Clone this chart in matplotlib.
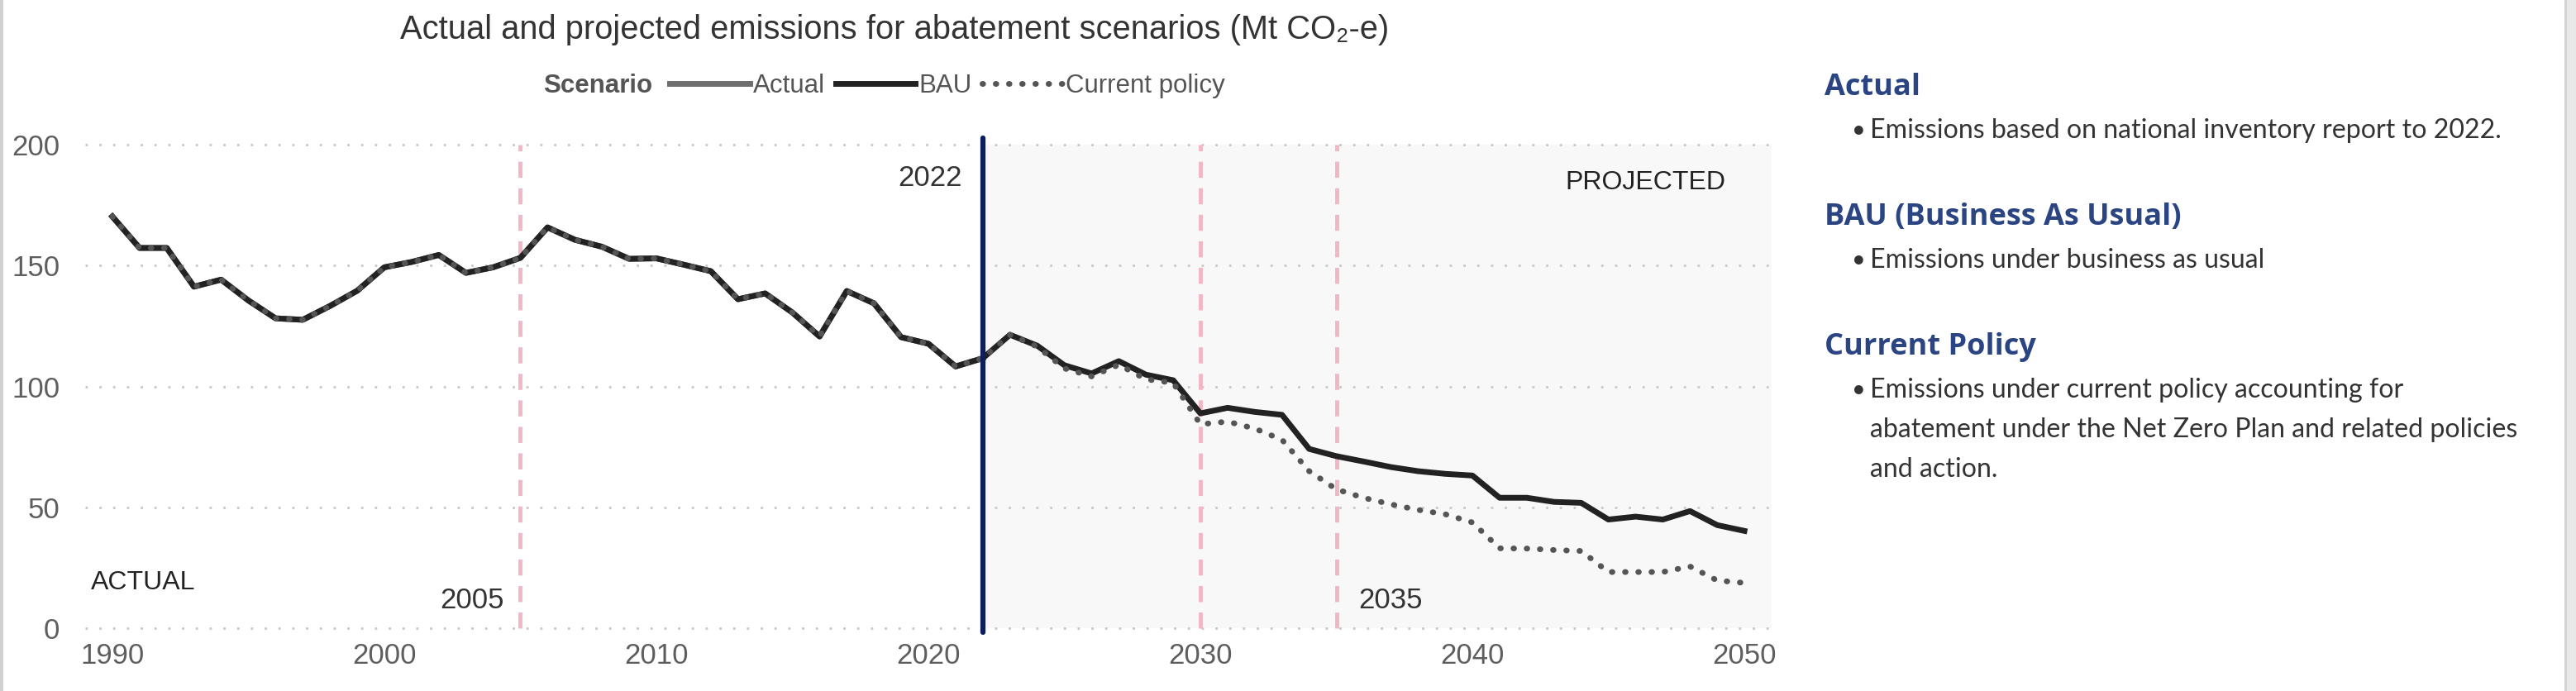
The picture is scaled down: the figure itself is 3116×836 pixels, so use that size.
import matplotlib
matplotlib.use("Agg")
import matplotlib.pyplot as plt
from matplotlib.patches import Rectangle

# values (Mt CO2-e)
years_actual = list(range(1990, 2023))
actual = [170.3, 157.3, 157.3, 141.3, 144.2, 135.6, 128.2, 127.6, 133.3, 139.6,
          149.3, 151.5, 154.4, 147.0, 149.3, 153.2, 165.8, 160.7, 157.8, 152.8,
          153.0, 150.4, 147.7, 136.1, 138.5, 130.6, 120.7, 139.5, 134.4, 120.4,
          117.7, 108.3, 111.7]
years_proj = list(range(2023, 2051))
bau_proj = [121.4, 116.9, 108.8, 105.4, 110.5, 104.9, 102.6, 88.9, 91.2, 89.5,
            88.3, 74.2, 71.2, 69.0, 66.7, 65.0, 63.9, 63.2, 54.0, 54.0,
            52.3, 51.9, 45.0, 46.2, 45.0, 48.5, 42.7, 40.3]
cp_proj = [121.4, 116.5, 107.5, 104.2, 109.0, 103.0, 101.5, 84.4, 85.5, 82.6,
           78.0, 65.0, 57.5, 54.0, 51.3, 49.0, 47.2, 43.8, 33.1, 33.0,
           32.4, 32.0, 23.3, 23.3, 23.3, 25.6, 19.8, 18.8]

marker_years = [2005, 2030, 2035]
last_actual_year = 2022
yticks = [0, 50, 100, 150, 200]
xticks = [1990, 2000, 2010, 2020, 2030, 2040, 2050]

notes = [
    ("Actual", ["Emissions based on national inventory report to 2022."]),
    ("BAU (Business As Usual)", ["Emissions under business as usual"]),
    ("Current Policy", ["Emissions under current policy accounting for",
                        "abatement under the Net Zero Plan and related policies",
                        "and action."]),
]

W, H = 3116, 836
fig = plt.figure(figsize=(W / 100, H / 100), dpi=100)
fig.patch.set_facecolor("white")

CHART_FONT = ["Liberation Sans", "DejaVu Sans"]
NOTE_FONT = ["Lato", "DejaVu Sans"]
HEAD_FONT = ["Open Sans", "DejaVu Sans"]
TICK_C = "#605e5c"
TEXT_C = "#333333"
NAVY = "#0a1f5c"
HEAD_C = "#2b4583"

ax = fig.add_axes([103 / W, 1 - 769 / H, 2040 / W, (769 - 157.5) / H])
ax.set_xlim(1989, 2051)
ax.set_ylim(-3, 206)

# projected shading
ax.fill_between([last_actual_year, 2051], 0, 200, color="#f8f8f8", zorder=0, lw=0)

for y in yticks:
    ax.plot([1989, 2051], [y, y], color="#c8c8c8", lw=2,
            linestyle=(0, (1, 5)), zorder=1)

for yr in marker_years:
    ax.plot([yr, yr], [0, 200], color="#f2b6c4", lw=3.5,
            linestyle=(0, (4, 2.6)), zorder=2)

ax.plot([last_actual_year, last_actual_year], [-1.7, 202.7], color=NAVY, lw=4.5,
        solid_capstyle="round", zorder=6)

all_years = years_actual + years_proj
bau = actual + bau_proj
cp = actual + cp_proj

l_act, = ax.plot(years_actual, actual, color="#6e6e6e", lw=5, zorder=3,
                 solid_joinstyle="round")
l_bau, = ax.plot(all_years, bau, color="#222222", lw=5, zorder=4,
                 solid_joinstyle="round")
l_cp, = ax.plot(all_years, cp, color="#555555", lw=5, zorder=5,
                linestyle=(0, (0.1, 2.2)), dash_capstyle="round")

for s in ax.spines.values():
    s.set_visible(False)
ax.set_xticks(xticks)
ax.set_yticks(yticks)
ax.tick_params(length=0, labelsize=25, labelcolor=TICK_C)
ax.tick_params(axis="y", pad=22)
ax.tick_params(axis="x", pad=6)
for lab in ax.get_xticklabels() + ax.get_yticklabels():
    lab.set_family(CHART_FONT)

ax.text(2021.25, 186.3, "2022", ha="right", va="center", fontsize=25,
        color=TEXT_C, family=CHART_FONT)
ax.text(2004.4, 11.6, "2005", ha="right", va="center", fontsize=25,
        color=TEXT_C, family=CHART_FONT)
ax.text(2035.8, 11.6, "2035", ha="left", va="center", fontsize=25,
        color=TEXT_C, family=CHART_FONT)
ax.text(1989.2, 18.8, "ACTUAL", ha="left", va="center", fontsize=23,
        color="#222222", family=CHART_FONT)
ax.text(2049.3, 184.3, "PROJECTED", ha="right", va="center", fontsize=23,
        color="#222222", family=CHART_FONT)

# title
fig.text(1082 / W, 1 - 36 / H,
         "Actual and projected emissions for abatement scenarios (Mt CO\u2082-e)",
         ha="center", va="center", fontsize=28.7, color=TEXT_C, family=CHART_FONT)

# legend
fig.text(657 / W, 1 - 104 / H, "Scenario", ha="left", va="center", fontsize=22.5,
         fontweight="bold", color="#555555", family=CHART_FONT)
fig.legend([l_act, l_bau, l_cp], ["Actual", "BAU", "Current policy"],
           loc="center left", bbox_to_anchor=(810 / W, 1 - 104 / H), ncol=3,
           frameon=False, handlelength=3.1, handletextpad=0.13, columnspacing=0.4,
           borderpad=0, borderaxespad=0,
           prop={"family": CHART_FONT, "size": 22.5}, labelcolor="#555555")

# notes panel
y = 106
for head, lines in notes:
    fig.text(2207 / W, 1 - y / H, head, ha="left", va="center", fontsize=26,
             fontweight="bold", color=HEAD_C, family=HEAD_FONT)
    y += 52
    for i, line in enumerate(lines):
        if i == 0:
            fig.text(2240 / W, 1 - y / H, "\u2022", ha="left", va="center",
                     fontsize=21, color=TEXT_C, family=NOTE_FONT)
        fig.text(2262 / W, 1 - y / H, line, ha="left", va="center", fontsize=23.1,
                 color=TEXT_C, family=NOTE_FONT)
        y += 48
    y += 105 - 48

# frame edges of the screenshot
fig.patches.append(Rectangle((0, 0), 4 / W, 1, transform=fig.transFigure,
                             color="#d0d0d0", lw=0))
fig.patches.append(Rectangle((3102 / W, 0), 14 / W, 1, transform=fig.transFigure,
                             color="#e8e8e8", lw=0))
fig.patches.append(Rectangle((3102 / W, 0), 3 / W, 1, transform=fig.transFigure,
                             color="#d4d4d4", lw=0))

fig.savefig("out.png", dpi=100)
